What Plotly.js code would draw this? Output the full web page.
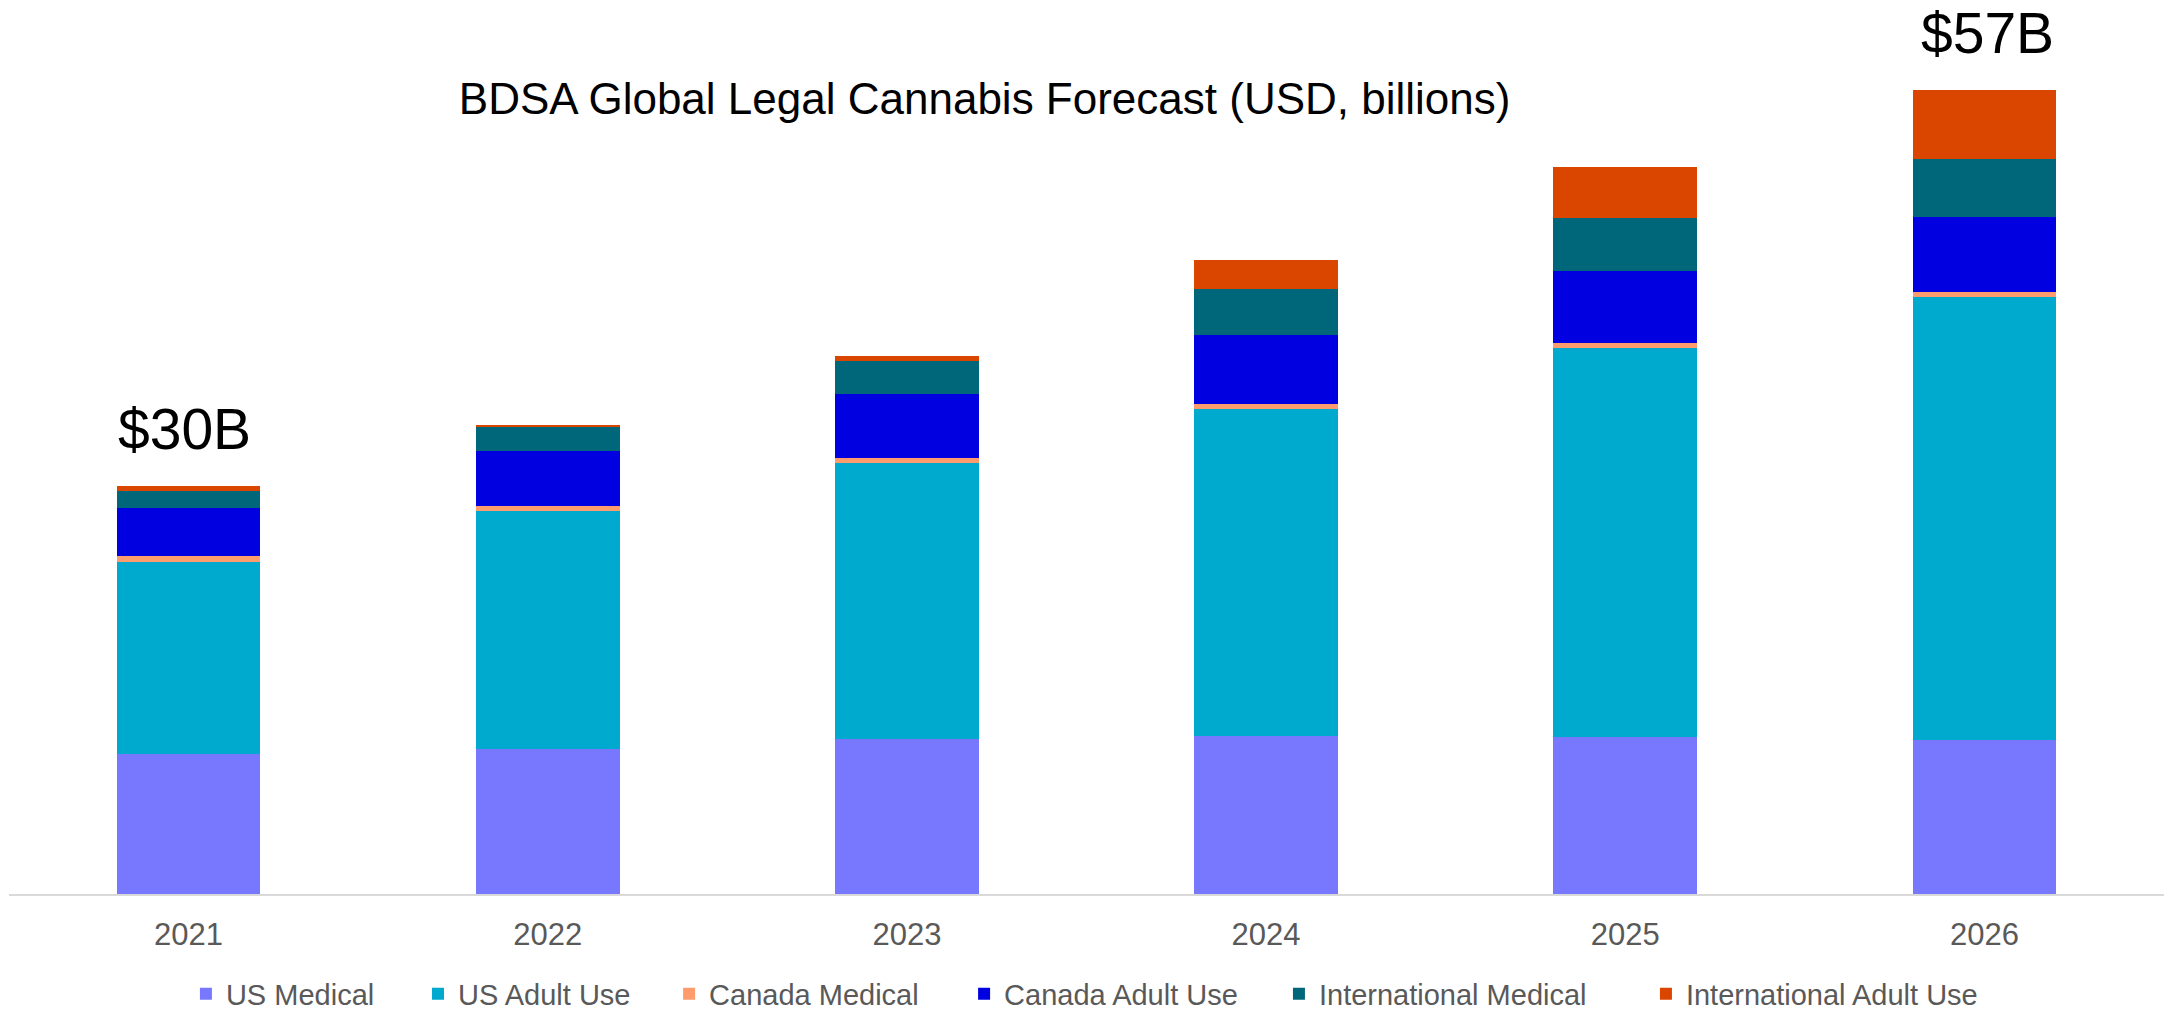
<!DOCTYPE html>
<html>
<head>
<meta charset="utf-8">
<script src="https://cdn.plot.ly/plotly-3.0.1.min.js"></script>
<style>
  html, body { margin: 0; padding: 0; background: #ffffff; }
  #chart { width: 2164px; height: 1011px; }
</style>
</head>
<body>
<div id="chart"></div>
<script>
// Data (USD, billions)
const years = ['2021', '2022', '2023', '2024', '2025', '2026'];
const usMedical = [9.93, 10.30, 10.99, 11.21, 11.11, 10.92];
const usAdultUse = [13.64, 16.88, 19.60, 23.21, 27.63, 31.44];
const canadaMedical = [0.40, 0.33, 0.31, 0.31, 0.31, 0.31];
const canadaAdultUse = [3.40, 3.90, 4.54, 4.94, 5.15, 5.32];
const intlMedical = [1.21, 1.70, 2.38, 3.22, 3.72, 4.13];
const intlAdultUse = [0.35, 0.12, 0.33, 2.10, 3.62, 4.87];
const seriesNames = ['US Medical', 'US Adult Use', 'Canada Medical', 'Canada Adult Use', 'International Medical', 'International Adult Use'];
const totalLabels = ['$30B', '', '', '', '', '$57B'];

const seriesValues = [usMedical, usAdultUse, canadaMedical, canadaAdultUse, intlMedical, intlAdultUse];
const colors = ['#7878FF', '#00AACF', '#FF9C6E', '#0000E0', '#00677A', '#DA4500'];
const legendIds = ['legend', 'legend2', 'legend3', 'legend4', 'legend5', 'legend6'];
const legendX = [0.0821, 0.1898, 0.3063, 0.4432, 0.5893, 0.7596];

const traces = seriesValues.map((vals, i) => ({
  type: 'bar',
  name: seriesNames[i],
  x: years,
  y: vals,
  legend: legendIds[i],
  marker: { color: colors[i], line: { width: 0 } },
  hoverinfo: 'skip'
}));

const totals = years.map((_, j) => seriesValues.reduce((s, arr) => s + arr[j], 0));

const annotations = [];
years.forEach((yr, j) => {
  if (totalLabels[j]) {
    annotations.push({
      x: j, y: totals[j], xref: 'x', yref: 'y',
      text: totalLabels[j], showarrow: false,
      xanchor: 'center', yanchor: 'middle', yshift: 57,
      xshift: j === 0 ? -4 : 3,
      font: { family: 'Liberation Sans, Arial, sans-serif', size: 57, color: '#000000' }
    });
  }
});

const legendFont = { family: 'Liberation Sans, Arial, sans-serif', size: 29, color: '#595959' };

const layout = {
  width: 2164, height: 1011,
  paper_bgcolor: '#ffffff', plot_bgcolor: '#ffffff',
  barmode: 'stack',
  bargap: 0.6,
  margin: { l: 9, r: 0, t: 30, b: 117, pad: 0, autoexpand: false },
  title: {
    text: 'BDSA Global Legal Cannabis Forecast (USD, billions)',
    x: 0.455, xanchor: 'center', y: 0.902, yanchor: 'middle',
    font: { family: 'Liberation Sans, Arial, sans-serif', size: 44, color: '#000000' }
  },
  xaxis: {
    type: 'category', range: [-0.5, 5.5],
    showline: true, linecolor: '#D9D9D9', linewidth: 2,
    ticks: '', showgrid: false, zeroline: false,
    tickfont: { family: 'Liberation Sans, Arial, sans-serif', size: 31, color: '#595959' },
    ticklabelstandoff: 12
  },
  yaxis: {
    range: [0, 61.28], showticklabels: false, showline: false,
    ticks: '', showgrid: false, zeroline: false
  },
  showlegend: true,
  annotations: annotations
};

legendIds.forEach((id, i) => {
  layout[id] = {
    orientation: 'h', x: legendX[i], xanchor: 'left', y: -0.1157, yanchor: 'middle',
    font: legendFont, bgcolor: 'rgba(0,0,0,0)',
    itemclick: false, itemdoubleclick: false
  };
});

Plotly.newPlot('chart', traces, layout, { displayModeBar: false, staticPlot: true });
</script>
</body>
</html>
